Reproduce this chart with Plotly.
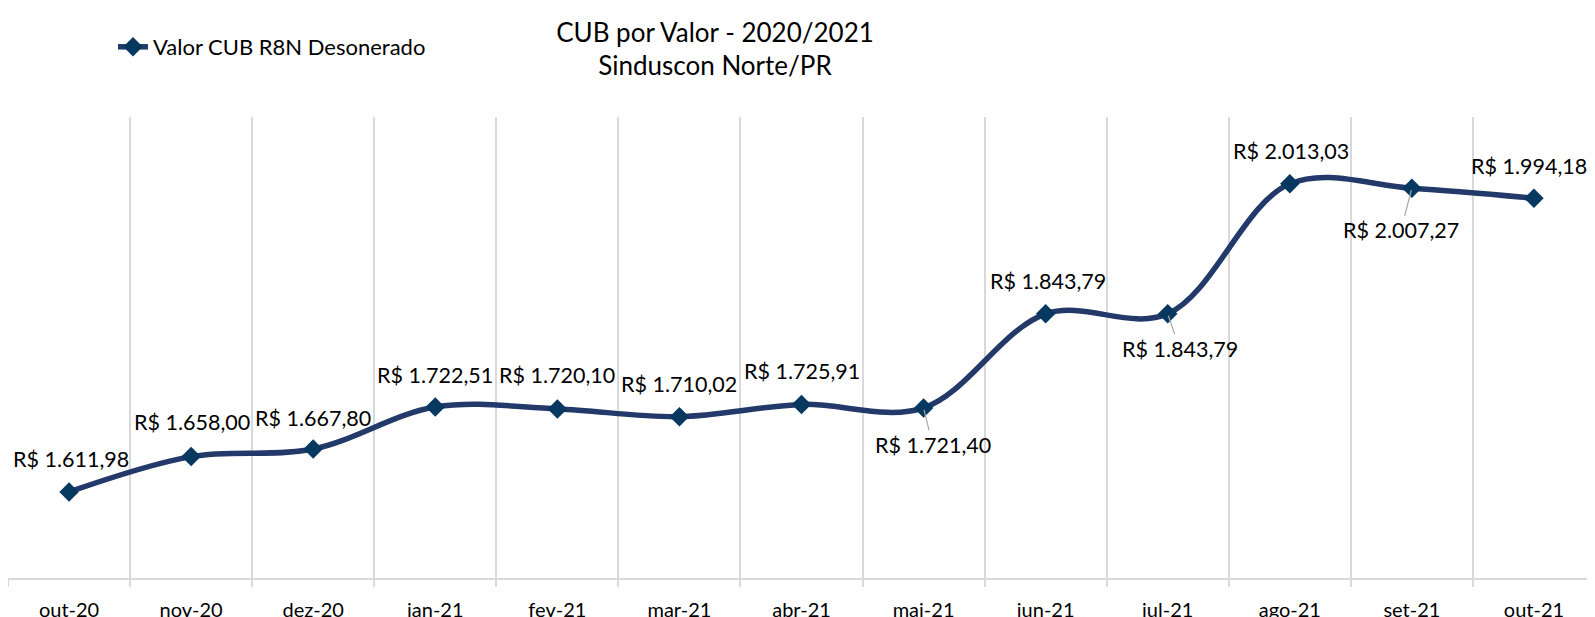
import plotly.graph_objects as go

categories = ["out-20", "nov-20", "dez-20", "jan-21", "fev-21", "mar-21", "abr-21",
              "mai-21", "jun-21", "jul-21", "ago-21", "set-21", "out-21"]
values = [1611.98, 1658.00, 1667.80, 1722.51, 1720.10, 1710.02, 1725.91,
          1721.40, 1843.79, 1843.79, 2013.03, 2007.27, 1994.18]
series_name = "Valor CUB R8N Desonerado"
title_lines = ["CUB por Valor - 2020/2021", "Sinduscon Norte/PR"]

# label placement (pixel offsets of label centre from the point; arrow = leader line)
label_offsets = [(2, 33, False), (1, 35, False), (0, 31, False), (0, 32, False),
                 (0, 34, False), (0, 33, False), (0, 33, False),
                 (9, -37, True), (2, 33, False), (12, -35, True),
                 (1, 33, False), (-11, -42, True), (0, 32, False)]


def brl(v):
    s = f"{v:,.2f}"
    s = s.replace(",", "X").replace(".", ",").replace("X", ".")
    return "R$ " + s


FONT = "Lato"
LINE = "#22396A"
MARK = "#073860"
GRID = "#D9D9D9"
OFF = 8  # page body margin of the browser

W, H = 1595 - OFF, 617 - OFF

fig = go.Figure()
fig.add_trace(go.Scatter(
    x=categories, y=values, mode="lines+markers", name=series_name,
    line=dict(color=LINE, width=5.5, shape="spline", smoothing=1.0),
    marker=dict(symbol="diamond", size=15, color=MARK),
))

annotations = []
last = len(categories) - 1
for i, (c, v, (dx, dy, arrow)) in enumerate(zip(categories, values, label_offsets)):
    f = dict(family=FONT, size=21.5, color="#000000")
    if arrow:
        annotations.append(dict(
            x=c, y=v, xref="x", yref="y", text=brl(v), showarrow=True,
            ax=dx, ay=-dy, arrowhead=0, arrowwidth=1.2, arrowcolor="#A6A6A6",
            standoff=2, font=f,
        ))
    elif i == last:
        annotations.append(dict(
            x=c, y=v, xref="x", yref="y", text=brl(v), showarrow=False,
            xanchor="right", xshift=55, yshift=dy, font=f,
        ))
    else:
        annotations.append(dict(
            x=c, y=v, xref="x", yref="y", text=brl(v), showarrow=False,
            xshift=dx, yshift=dy, font=f,
        ))

fig.update_layout(
    width=W, height=H,
    margin=dict(l=0, r=0, t=117 - OFF, b=H - (578 - OFF), pad=0, autoexpand=False),
    paper_bgcolor="white", plot_bgcolor="white",
    font=dict(family=FONT, color="#000000"),
    title=dict(text="<br>".join(title_lines), x=(715 - OFF) / W, xanchor="center",
               y=1 - 33.5 / H, yanchor="middle", yref="container",
               font=dict(family=FONT, size=26, color="#000000")),
    showlegend=True,
    legend=dict(x=(113 - OFF) / W, xanchor="left", y=1 - (47 - OFF) / H, yanchor="middle",
                xref="container", yref="container", orientation="h",
                font=dict(family=FONT, size=22, color="#000000"),
                bgcolor="rgba(0,0,0,0)"),
    annotations=annotations,
    xaxis=dict(type="category", range=[-0.5, 12.5], tickson="boundaries",
               showgrid=True, gridcolor=GRID, gridwidth=1.5,
               showline=True, linecolor=GRID, linewidth=1.5,
               ticks="outside", ticklen=7, tickcolor=GRID, tickwidth=1.5,
               ticklabelstandoff=13, automargin=False,
               tickfont=dict(family=FONT, size=20, color="#000000"),
               fixedrange=True),
    yaxis=dict(range=[1500, 2100], showgrid=False, zeroline=False, automargin=False,
               showticklabels=False, showline=False, ticks=""),
)

fig.write_html("out.html")
